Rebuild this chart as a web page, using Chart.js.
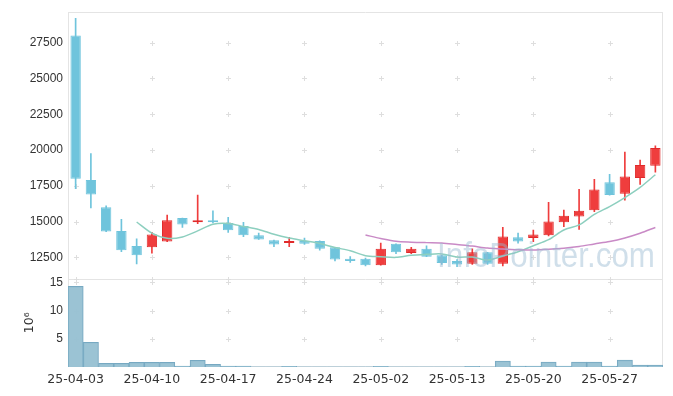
<!DOCTYPE html>
<html><head><meta charset="utf-8">
<script src="https://cdn.jsdelivr.net/npm/chart.js@4.4.0/dist/chart.umd.min.js"></script>
<style>html,body{margin:0;padding:0;background:#fff;}canvas{display:block;}</style>
</head><body>
<canvas id="c" width="673" height="396"></canvas>
<script>
const dates = ["25-04-03","25-04-04","25-04-07","25-04-08","25-04-09","25-04-10","25-04-11","25-04-14","25-04-15","25-04-16","25-04-17","25-04-18","25-04-21","25-04-22","25-04-23","25-04-24","25-04-25","25-04-28","25-04-29","25-04-30","25-05-02","25-05-07","25-05-08","25-05-09","25-05-12","25-05-13","25-05-14","25-05-15","25-05-16","25-05-19","25-05-20","25-05-21","25-05-22","25-05-23","25-05-26","25-05-27","25-05-28","25-05-29","25-05-30"];
const opens  = [28000,17900,16000,14350,13300,13200,13600,15250,14950,15100,14900,14700,14050,13700,13500,13650,13650,13200,12400,12400,11950,13450,12800,13100,12650,12250,12050,12850,12050,13900,13850,14050,14950,15350,15800,17750,16950,18050,18900];
const highs  = [29200,19750,16100,15150,13800,14250,15450,15250,16850,15750,15300,14950,14200,13700,13900,13850,13650,13200,12550,12450,13500,13450,13200,13300,12650,12350,13100,12850,14600,14200,14400,16350,15800,17250,17950,18300,19850,19300,20300];
const lows   = [17300,15950,14300,12900,12050,12800,13600,14600,14850,14900,14250,13950,13750,13250,13250,13400,13000,12250,12150,11900,11950,12750,12750,12550,12000,11850,12000,12000,11900,13500,13600,14000,14650,14450,15700,16850,16500,17600,18450];
const closes = [18000,16900,14300,13000,12650,14100,15100,14800,15100,14950,14400,14050,13750,13400,13650,13450,13100,12350,12250,11950,13100,12850,13100,12550,12100,12000,12850,12050,13950,13600,14100,15000,15400,15750,17250,16850,18150,18950,20150];
const volumes = [14300000,4400000,650000,650000,830000,830000,830000,150000,1200000,480000,150000,150000,20000,20000,120000,20000,20000,20000,20000,20000,120000,20000,20000,20000,20000,20000,120000,20000,1060000,150000,150000,880000,150000,880000,880000,150000,1230000,350000,350000];
const ma5  = [null,null,null,null,14970,14190,13830,13930,14350,14810,14870,14660,14450,14110,13850,13660,13470,13190,12960,12620,12550,12500,12650,12710,12740,12520,12520,12310,12590,12890,13310,13740,14410,14770,15500,16050,16680,17390,18270];
const ma20 = [null,null,null,null,null,null,null,null,null,null,null,null,null,null,null,null,null,null,null,14060,13820,13620,13560,13530,13510,13400,13290,13150,13090,13030,13010,13060,13140,13260,13440,13610,13860,14190,14590];
const priceTicks = [12500,15000,17500,20000,22500,25000,27500];
const volumeTicks = [5,10,15];   // in millions
const xLabelEvery = 5;

const UP = '#ef3d3d', UP_BORDER = '#e02a2a', DOWN = '#6fc4dc';
const isUp = closes.map((c,i)=>c>=opens[i]);

const gridPlugin = {
  id: 'gridcross',
  beforeDatasetsDraw(chart){
    const {ctx, chartArea:a, scales} = chart;
    const x = scales.x, y = scales.y, yv = scales.yv;
    ctx.save();
    ctx.strokeStyle = '#e4e4e4'; ctx.lineWidth = 1;
    const r = v => Math.round(v)+0.5;
    ctx.beginPath();
    ctx.moveTo(r(a.left), a.top); ctx.lineTo(r(a.left), a.bottom);
    ctx.moveTo(r(a.right-1), a.top); ctx.lineTo(r(a.right-1), a.bottom);
    ctx.moveTo(a.left, r(a.top)); ctx.lineTo(a.right, r(a.top));
    ctx.moveTo(a.left, r(y.bottom)); ctx.lineTo(a.right, r(y.bottom));
    ctx.moveTo(a.left, r(a.bottom-1)); ctx.lineTo(a.right, r(a.bottom-1));
    ctx.stroke();
    ctx.strokeStyle = '#dedede';
    const xs = [];
    dates.forEach((d,i)=>{ if(i%xLabelEvery===0) xs.push(x.getPixelForValue(i)); });
    const ys = priceTicks.map(t=>y.getPixelForValue(t)).concat(volumeTicks.map(t=>yv.getPixelForValue(t*1e6))).concat([y.bottom]);
    ctx.beginPath();
    xs.forEach(px=>ys.forEach(py=>{
      const cx = Math.round(px)+0.5, cy = Math.round(py)+0.5;
      ctx.moveTo(cx-2.5, cy); ctx.lineTo(cx+2.5, cy);
      ctx.moveTo(cx, cy-2.5); ctx.lineTo(cx, cy+2.5);
    }));
    ctx.stroke();
    ctx.restore();
  },
  afterDatasetsDraw(chart){
    const {ctx} = chart;
    ctx.save();
    ctx.font = '35px "Liberation Sans", "Noto Sans", sans-serif';
    const txt = 'InfoPointer.com';
    const w = ctx.measureText(txt).width;
    ctx.translate(437, 267);
    ctx.scale(218/w, 1);
    ctx.fillStyle = 'rgba(150,185,208,0.45)';
    ctx.textBaseline = 'alphabetic';
    ctx.fillText(txt, 0, 0);
    ctx.restore();
  }
};

const tickFont = {family:'"Liberation Sans Narrow", "Liberation Sans", sans-serif', size:12};

new Chart(document.getElementById('c'), {
  type: 'bar',
  data: {
    labels: dates,
    datasets: [
      {type:'line', data: ma20, borderColor:'#c98ac6', borderWidth:1.5, pointRadius:0, tension:0.3, yAxisID:'y', order:0},
      {type:'line', data: ma5, borderColor:'#8dcfbf', borderWidth:1.5, pointRadius:0, tension:0.3, yAxisID:'y', order:1},
      {type:'bar', data: opens.map((o,i)=>[o, closes[i]]), backgroundColor: isUp.map(u=>u?UP:DOWN), borderColor: isUp.map(u=>u?UP_BORDER:DOWN), borderWidth:1, borderSkipped:false, barPercentage:0.68, categoryPercentage:1, grouped:false, yAxisID:'y', order:2},
      {type:'bar', data: lows.map((l,i)=>[l, highs[i]]), backgroundColor: isUp.map(u=>u?UP:DOWN), barThickness:1, grouped:false, yAxisID:'y', order:3},
      {type:'bar', data: volumes, backgroundColor:'rgba(150,192,210,0.95)', borderColor:'#77a9c2', borderWidth:1, barPercentage:1, categoryPercentage:1, grouped:false, yAxisID:'yv', order:4}
    ]
  },
  options: {
    responsive:false, animation:false, devicePixelRatio:1,
    layout:{padding:{top:10, right:10, left:0, bottom:0}},
    plugins:{legend:{display:false}, tooltip:{enabled:false}},
    scales:{
      x:{
        grid:{display:false, drawTicks:false}, border:{display:false},
        ticks:{autoSkip:false, maxRotation:0, padding:5, color:'#333', font:{family:'"DejaVu Sans", sans-serif', size:12.5},
          callback:(v,i)=> i%xLabelEvery===0 ? dates[i] : ''},
        afterFit(s){ s.height = 29; }
      },
      yv:{
        type:'linear', position:'left', stack:'s', stackWeight:89, min:0, max:15700000,
        grid:{display:false, drawTicks:false}, border:{display:false},
        afterBuildTicks(s){ s.ticks = volumeTicks.map(v=>({value:v*1e6})); },
        ticks:{padding:5, color:'#333', font:tickFont, callback:v=>String(v/1e6)},
        title:{display:true, text:'10⁶', color:'#333', font:{family:'"DejaVu Sans", sans-serif', size:12.5}, padding:{top:22,bottom:0}},
        afterFit(s){ s.width = 68; }
      },
      y:{
        type:'linear', position:'left', stack:'s', stackWeight:268, min:11020, max:29630,
        grid:{display:false, drawTicks:false}, border:{display:false},
        afterBuildTicks(s){ s.ticks = priceTicks.map(v=>({value:v})); },
        ticks:{padding:5, color:'#333', font:tickFont, callback:v=>String(v)},
        afterFit(s){ s.width = 68; }
      }
    }
  },
  plugins:[gridPlugin]
});
</script>
</body></html>
